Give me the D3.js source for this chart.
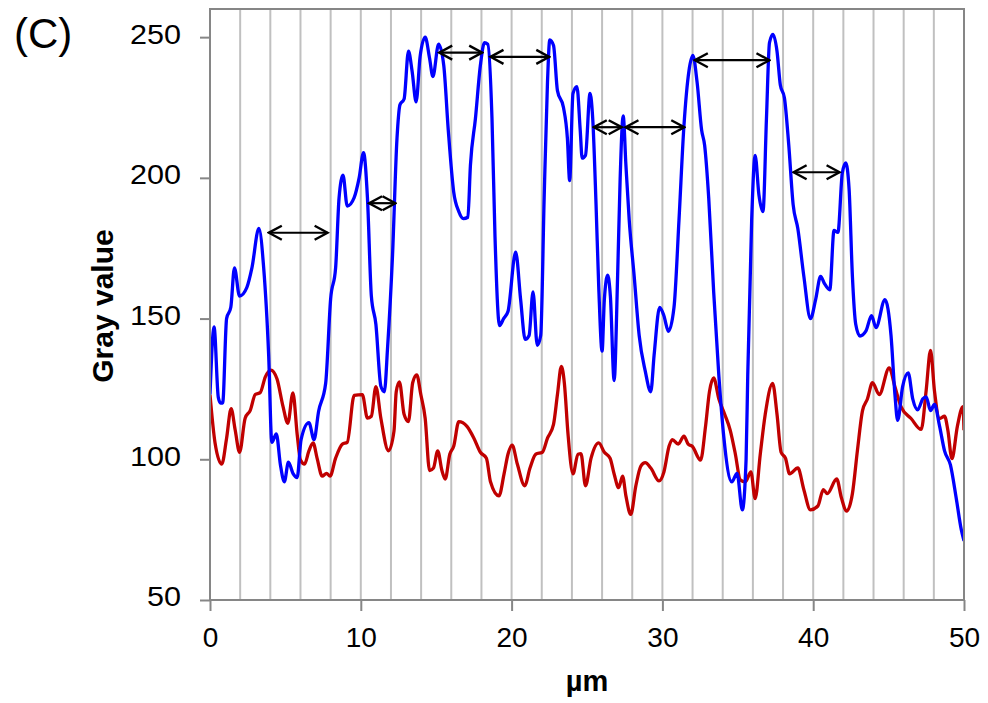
<!DOCTYPE html>
<html>
<head>
<meta charset="utf-8">
<script src="https://cdn.jsdelivr.net/npm/d3@7"></script>
<style>
  body { margin: 0; background: #fff; }
  svg { display: block; font-family: "Liberation Sans", Arial, sans-serif; }
</style>
</head>
<body>
<svg id="chart" width="988" height="703"></svg>
<script>
// profile along the line, [position in um, gray value]
var blueProfile = [
  [0, 123], [0.27, 147], [0.55, 122], [0.7, 120], [0.84, 120], [1.1, 150], [1.38, 154],
  [1.62, 168], [1.96, 158], [2.44, 161], [2.78, 168], [3.24, 182], [3.56, 168], [3.89, 137],
  [4.1, 106], [4.4, 109], [4.67, 98], [4.93, 92], [5.2, 99], [5.5, 95], [5.78, 93.5],
  [6.04, 107], [6.56, 113], [6.9, 107], [7.2, 117], [7.67, 127], [8.0, 157], [8.33, 168],
  [8.56, 193], [8.82, 201], [9.1, 190], [9.56, 193], [9.89, 200], [10.18, 209], [10.44, 193],
  [10.7, 158], [11.0, 148], [11.33, 126], [11.56, 124], [11.78, 140], [12.1, 172], [12.4, 214],
  [12.6, 226], [12.87, 228], [13.16, 245], [13.4, 238], [13.67, 227], [13.93, 243], [14.27, 250],
  [14.56, 242.5], [14.78, 236], [15.16, 247.5], [15.5, 240], [15.8, 217], [16.16, 195],
  [16.5, 188], [16.8, 185.5], [17.1, 186], [17.27, 204.5], [17.6, 221], [17.93, 240], [18.2, 248],
  [18.42, 247.5], [18.7, 221], [18.9, 179], [19.2, 147.5], [19.47, 150], [19.76, 152.5],
  [20.27, 173.6], [20.6, 156.7], [20.9, 142.6], [21.16, 144], [21.42, 159.5], [21.7, 140.5],
  [21.93, 144], [22.16, 193], [22.38, 234], [22.53, 249], [22.78, 247], [23.04, 231],
  [23.44, 225], [23.7, 214], [23.85, 199], [24.07, 230], [24.33, 232.4], [24.55, 217],
  [24.68, 207], [24.9, 208], [25.2, 230], [25.38, 221], [25.6, 190.5], [25.78, 161], [26.0, 138.4],
  [26.15, 156.7], [26.37, 165.4], [26.55, 158], [26.8, 128], [27.03, 165], [27.2, 200], [27.4, 222],
  [27.58, 204.6], [27.8, 185], [28.13, 165], [28.46, 144], [28.86, 131.4], [29.23, 124],
  [29.45, 137], [29.82, 154], [30.1, 151], [30.4, 145.5], [30.77, 154], [31.1, 185], [31.43, 218.6],
  [31.76, 238], [32.02, 243.5], [32.3, 234], [32.6, 217], [32.8, 211.6], [33.07, 193],
  [33.4, 159.5], [33.74, 130], [34.07, 108], [34.6, 92], [34.95, 95], [35.3, 82], [35.55, 100],
  [35.66, 130], [35.92, 185], [36.15, 208], [36.4, 194], [36.67, 188], [36.9, 221], [37.1, 248],
  [37.33, 251], [37.6, 245], [37.82, 233], [38.09, 228.5], [38.38, 211.6], [38.67, 190.5],
  [38.98, 182], [39.38, 165], [39.82, 150], [40.16, 156.7], [40.49, 165], [40.76, 162.3],
  [41.1, 160.2], [41.38, 181.3], [41.64, 180.6], [41.93, 201.7], [42.16, 205.3], [42.38, 196],
  [42.6, 165], [42.82, 148], [43.1, 143.8], [43.49, 145.5], [43.87, 151], [44.16, 146.8],
  [44.76, 156.7], [45.16, 144], [45.42, 123], [45.6, 113.8], [45.93, 125.8], [46.3, 130.7],
  [46.6, 121.5], [46.93, 117.6], [47.27, 121.5], [47.49, 122.2], [47.78, 117.3], [48.04, 119.5],
  [48.38, 111.8], [48.71, 103], [49.1, 98], [49.49, 86], [49.82, 75], [50, 71]
];

var redProfile = [
  [0, 123], [0.33, 106], [0.78, 98.3], [1.1, 107.5], [1.4, 118], [1.67, 110.4], [1.96, 102.5],
  [2.33, 114.6], [2.67, 117.4], [3.0, 123], [3.33, 123.7], [3.67, 129.3], [4.04, 131.7],
  [4.44, 128.6], [4.84, 118.8], [5.16, 112.8], [5.5, 123.6], [5.78, 108.9], [6.0, 99.7],
  [6.27, 98.3], [6.56, 103], [6.84, 105.8], [7.1, 100.4], [7.44, 94], [7.73, 95], [7.96, 94],
  [8.33, 100.4], [8.78, 105.4], [9.1, 106], [9.56, 122.7], [10.1, 123], [10.44, 114.6],
  [10.7, 115.3], [11.0, 125.8], [11.33, 114.6], [11.84, 103], [12.2, 110], [12.35, 124],
  [12.56, 127.5], [12.87, 116], [13.16, 113.4], [13.44, 127.2], [13.71, 130], [13.98, 123],
  [14.27, 114.5], [14.56, 96], [14.82, 96.9], [15.1, 103], [15.38, 96], [15.6, 93], [15.9, 101.8],
  [16.16, 104.6], [16.5, 113.4], [17.04, 111.7], [17.5, 107.5], [17.93, 102.5], [18.33, 100.4],
  [18.6, 92], [19.16, 87], [19.5, 94.8], [19.76, 101.8], [20.04, 105], [20.38, 98.3],
  [20.87, 90.6], [21.22, 96.9], [21.6, 101.8], [22.04, 102.5], [22.38, 107.5], [22.78, 112.4],
  [23.04, 123], [23.3, 133], [23.5, 127], [23.74, 109], [24.07, 94.8], [24.4, 101.8], [24.6, 102],
  [24.9, 90.6], [25.27, 100.4], [25.78, 105.8], [26.15, 102.5], [26.53, 100.4], [26.8, 94.8],
  [27.1, 89.9], [27.36, 94], [27.58, 87], [27.9, 80.4], [28.24, 90.6], [28.57, 97.6],
  [28.86, 98.8], [29.23, 96.9], [29.78, 92.3], [30.1, 95.5], [30.44, 104.6], [30.66, 107],
  [31.05, 105.4], [31.43, 108.2], [31.71, 105.4], [31.98, 104.6], [32.53, 99.7], [32.86, 111.7],
  [33.12, 124], [33.4, 128.9], [33.74, 121.5], [34.13, 116], [34.5, 110.3], [34.84, 101.8],
  [35.16, 92.7], [35.5, 92], [35.87, 95.5], [36.15, 86], [36.49, 101.8], [36.82, 116],
  [37.31, 127], [37.6, 116], [37.87, 102.5], [38.16, 100.4], [38.44, 94.8], [38.98, 96.9],
  [39.38, 89.2], [39.82, 82], [40.31, 83.4], [40.67, 89.2], [40.93, 87.8], [41.56, 93],
  [41.87, 86.3], [42.22, 81.6], [42.6, 87.8], [42.93, 103], [43.27, 117.3], [43.6, 121.5],
  [43.93, 127.2], [44.38, 123], [45.04, 132.5], [45.42, 125.8], [45.82, 118.7], [46.49, 114.5],
  [47.16, 110.6], [47.49, 124.4], [47.78, 138.7], [48.04, 124.4], [48.38, 114.5], [48.71, 115.3],
  [48.93, 110.3], [49.2, 100.2], [49.56, 111.7], [49.93, 118.7], [50, 110.3]
];

// double arrows marking the spacing between peaks
var arrowFrom = [3.9, 10.55, 15.2, 18.6, 25.45, 27.55, 32.15, 38.7];
var arrowTo = [7.8, 12.3, 18.05, 22.5, 27.3, 31.45, 37.1, 41.75];
var arrowLevel = [180.5, 191, 244.5, 243, 218, 218, 241.8, 202];

var xTicks = [0, 10, 20, 30, 40, 50];
var yTicks = [50, 100, 150, 200, 250];
var gridLines = d3.range(2, 50, 2);

function drawChart() {
  var svg = d3.select("#chart");

  // plot box
  var plotLeft = 210, plotRight = 964, plotTop = 9, plotBottom = 600;

  var x = d3.scaleLinear().domain([0, 50]).range([plotLeft, plotRight]);
  var y = d3.scaleLinear().domain([50, 260]).range([plotBottom, plotTop]);

  var defs = svg.append("defs");
  defs.append("clipPath")
      .attr("id", "plot-clip")
    .append("rect")
      .attr("x", plotLeft).attr("y", plotTop)
      .attr("width", plotRight - plotLeft).attr("height", plotBottom - plotTop);

  // open chevron heads for the arrows (tip sits on the line end)
  var marker = defs.append("marker")
      .attr("id", "chevron")
      .attr("viewBox", "-16 -9 18 18")
      .attr("refX", 0).attr("refY", 0)
      .attr("markerUnits", "userSpaceOnUse")
      .attr("markerWidth", 18).attr("markerHeight", 18)
      .attr("orient", "auto-start-reverse");
  marker.append("path")
      .attr("d", "M-13,-7L0,0L-13,7")
      .attr("fill", "none")
      .attr("stroke", "#000")
      .attr("stroke-width", 2.4);

  // vertical grid every 2 um
  svg.append("g")
    .selectAll("line")
    .data(gridLines)
    .enter()
    .append("line")
      .attr("x1", function(d) { return x(d); })
      .attr("x2", function(d) { return x(d); })
      .attr("y1", plotTop).attr("y2", plotBottom)
      .attr("stroke", "#c0c0c0")
      .attr("stroke-width", 2);

  // axes
  var yAxis = d3.axisLeft(y).tickValues(yTicks).tickSize(10).tickPadding(19);
  var xAxis = d3.axisBottom(x).tickValues(xTicks).tickSize(11).tickPadding(16);

  var gy = svg.append("g").attr("transform", "translate(" + plotLeft + ",0)").call(yAxis);
  var gx = svg.append("g").attr("transform", "translate(0," + plotBottom + ")").call(xAxis);

  [gx, gy].forEach(function(g) {
    g.attr("font-size", null).attr("font-family", null);
    g.select(".domain").remove();
    g.selectAll(".tick line").attr("stroke", "#868686").attr("stroke-width", 2);
    g.selectAll(".tick text")
      .attr("fill", "#000")
      .style("font-size", "28px");
  });
  // y labels look a bit wider in the original
  gy.selectAll(".tick text")
      .style("font-size", "27px")
      .attr("dy", "0.22em")
      .attr("lengthAdjust", "spacingAndGlyphs")
      .attr("textLength", function(d) { return String(d).length * 17; });

  // the two profiles
  var line = d3.line()
      .x(function(d) { return x(d[0]); })
      .y(function(d) { return y(d[1]); })
      .curve(d3.curveMonotoneX);

  var lines = svg.append("g").attr("clip-path", "url(#plot-clip)");

  lines.append("path")
      .datum(redProfile)
      .attr("d", line)
      .attr("fill", "none")
      .attr("stroke", "#c00000")
      .attr("stroke-width", 3.3)
      .attr("stroke-linejoin", "round");

  lines.append("path")
      .datum(blueProfile)
      .attr("d", line)
      .attr("fill", "none")
      .attr("stroke", "#0000ff")
      .attr("stroke-width", 3.3)
      .attr("stroke-linejoin", "round");

  // box round the plot
  svg.append("rect")
      .attr("x", plotLeft).attr("y", plotTop)
      .attr("width", plotRight - plotLeft).attr("height", plotBottom - plotTop)
      .attr("fill", "none")
      .attr("stroke", "#868686")
      .attr("stroke-width", 2);

  // arrows
  svg.append("g")
    .selectAll("line")
    .data(arrowFrom)
    .enter()
    .append("line")
      .attr("x1", function(d) { return x(d); })
      .attr("x2", function(d, i) { return x(arrowTo[i]); })
      .attr("y1", function(d, i) { return y(arrowLevel[i]); })
      .attr("y2", function(d, i) { return y(arrowLevel[i]); })
      .attr("stroke", "#000")
      .attr("stroke-width", 2.2)
      .attr("marker-start", "url(#chevron)")
      .attr("marker-end", "url(#chevron)");

  // titles
  svg.append("text")
      .attr("x", 587).attr("y", 691)
      .attr("text-anchor", "middle")
      .style("font-size", "29px")
      .style("font-weight", "bold")
      .text("µm");

  svg.append("text")
      .attr("transform", "translate(113,306) rotate(-90)")
      .attr("text-anchor", "middle")
      .style("font-size", "30px")
      .style("font-weight", "bold")
      .text("Gray value");

  svg.append("text")
      .attr("x", 14).attr("y", 48)
      .style("font-size", "42px")
      .text("(C)");
}

drawChart();
</script>
</body>
</html>
